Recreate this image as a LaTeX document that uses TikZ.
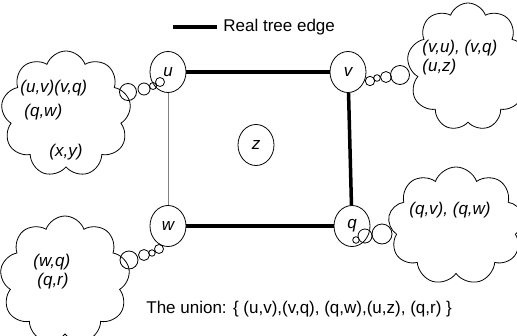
\documentclass[tikz,border=0pt]{standalone}
\usepackage{fontspec}
\setmainfont{Liberation Sans}
\usetikzlibrary{shapes.geometric,shapes.symbols}

\begin{document}
\begin{tikzpicture}[x=1pt,y=-1pt, line width=0.8pt,
  every node/.style={font=\fontsize{17}{20}\selectfont},
  vert/.style={draw, ellipse, minimum width=36pt, minimum height=41pt, inner sep=0pt, font=\fontsize{17}{20}\selectfont\itshape},
  thought/.style={cloud, draw, cloud puffs=9, cloud puff arc=140, cloud ignores aspect, inner sep=0pt},
  pair/.style={anchor=west, inner sep=0pt, font=\fontsize{17}{20}\selectfont\itshape},
  treeedge/.style={line width=3.5pt}]
  \definecolor{edgeGray}{HTML}{808080}
  \useasboundingbox (0,0) rectangle (517,335);
  % legend
  \coordinate (lgs) at (173,27);
  \node[anchor=west, inner sep=0pt] (lg) at (223,27) {Real tree edge};
  \draw[line width=4pt] (lgs) -- ([xshift=-6pt]lg.west);
  % vertices
  \foreach \n/\x/\y in {u/168/72, v/348/72, z/256/145, w/168/226, q/352/226}{
    \node[vert] (\n) at (\x,\y) {\n};
  }
  \draw[treeedge] (u) -- (v);
  \draw[treeedge] (v) -- (q);
  \draw[treeedge] (w) -- (q);
  \draw[edgeGray, line width=1pt] (u) -- (w);
  % thought clouds
  \node[thought, minimum width=130pt, minimum height=126pt] (cu) at (66,114) {};
  \node[thought, minimum width=122pt, minimum height=128pt] (cv) at (468,67) {};
  \node[thought, minimum width=136pt, minimum height=118pt] (cq) at (456,226) {};
  \node[thought, minimum width=130pt, minimum height=128pt] (cw) at (65,280) {};
  % bubbles between clouds and vertices
  \foreach \x/\y/\r in {128/92/8.5, 144/89/6, 153/86/3.5, 160/82/4.5,
                        400/75/9.5, 386/77/5.5, 377/78/3.3, 370/81/4.7,
                        382/234/10, 365/236/7, 356/240/3.3,
                        129/260/9, 144/255/5.5, 152/253/3.2, 159/249/4.5}{
    \draw (\x,\y) circle[radius=\r pt];
  }
  % cloud texts
  \node[pair] (tu1) at (20,88) {(u,v)(v,q)};
  \node[pair] (tu2) at (24,112) {(q,w)};
  \node[pair] (tu3) at (49,152) {(x,y)};
  \node[pair] (tv1) at (422,48) {(v,u), (v,q)};
  \node[pair] (tv2) at (422,67) {(u,z)};
  \node[pair] (tq1) at (409,210) {(q,v), (q,w)};
  \node[pair] (tw1) at (33,262) {(w,q)};
  \node[pair] (tw2) at (37,281) {(q,r)};
  % union
  \node[anchor=west, inner sep=0pt] (un) at (146,309) {The union: \{ (u,v),(v,q), (q,w),(u,z), (q,r) \}};
\end{tikzpicture}
\end{document}
